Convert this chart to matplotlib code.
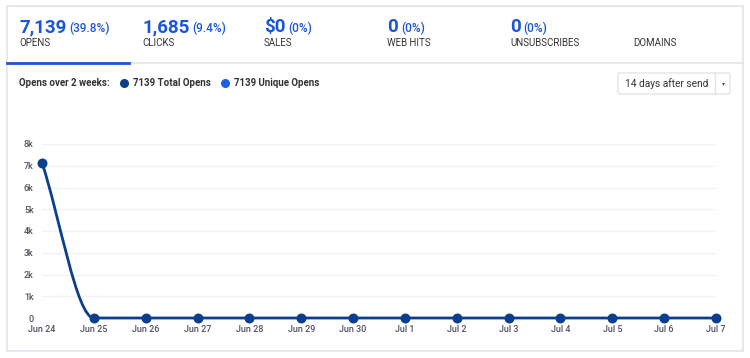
import matplotlib.pyplot as plt
import numpy as np
from matplotlib.path import Path
from matplotlib.patches import PathPatch, FancyBboxPatch, Rectangle

plt.rcParams['font.family'] = ['Roboto', 'DejaVu Sans']

# data
dates = ['Jun 24', 'Jun 25', 'Jun 26', 'Jun 27', 'Jun 28', 'Jun 29', 'Jun 30',
         'Jul 1', 'Jul 2', 'Jul 3', 'Jul 4', 'Jul 5', 'Jul 6', 'Jul 7']
opens = [7139, 0, 0, 0, 0, 0, 0, 0, 0, 0, 0, 0, 0, 0]
yticks = [0, 1000, 2000, 3000, 4000, 5000, 6000, 7000, 8000]
ytick_labels = ['0', '1k', '2k', '3k', '4k', '5k', '6k', '7k', '8k']

stat_values = ['7,139', '1,685', '$0', '0', '0', '']
stat_pcts = ['(39.8%)', '(9.4%)', '(0%)', '(0%)', '(0%)', '']
stat_names = ['OPENS', 'CLICKS', 'SALES', 'WEB HITS', 'UNSUBSCRIBES', 'DOMAINS']
total_opens = 7139
unique_opens = 7139

BLUE = '#1a56d8'
NAVY = '#0b3f8c'
BRIGHT = '#1d5fe6'
TXT = '#333333'
GREY = '#4d5260'
BORDER = '#e3e4ea'

W, H = 750, 358
fig = plt.figure(figsize=(W / 100, H / 100), dpi=100)

# overlay in pixel coordinates for the card / tabs
ui = fig.add_axes([0, 0, 1, 1])
ui.set_xlim(0, W)
ui.set_ylim(H, 0)
ui.axis('off')

ui.add_patch(Rectangle((7, 6), 736, 345, fill=False, ec=BORDER, lw=1.2))
ui.plot([7, 743], [63, 63], color=BORDER, lw=1.2)
ui.plot([7, 129], [62.5, 62.5], color=BLUE, lw=2)

tab_x = [19, 142, 264, 387, 510, 633]
for x, v, p, n in zip(tab_x, stat_values, stat_pcts, stat_names):
    if v:
        t = ui.text(x, 32, v, color=BLUE, fontsize=13.5, fontweight='bold', va='baseline')
        fig.canvas.draw()
        bb = t.get_window_extent()
        ui.text(bb.x1 + 3, 32, p, color=BLUE, fontsize=8.5, fontweight='medium', va='baseline')
    ui.text(x, 46.5, n, color=TXT, fontsize=7, va='baseline')

ui.text(19, 83, 'Opens over 2 weeks:', color=TXT, fontsize=7, fontweight='bold', va='center')
ui.scatter([124], [83], s=30, color=NAVY, zorder=3)
ui.text(133, 83, f'{total_opens} Total Opens', color=TXT, fontsize=7, fontweight='bold', va='center')
ui.scatter([225], [83], s=30, color=BRIGHT, zorder=3)
ui.text(234, 83, f'{unique_opens} Unique Opens', color=TXT, fontsize=7, fontweight='bold', va='center')

# dropdown
ui.add_patch(FancyBboxPatch((618, 73), 112, 21, boxstyle='round,pad=0,rounding_size=2',
                            fill=False, ec=BORDER, lw=1))
ui.plot([715, 715], [73, 94], color=BORDER, lw=1)
ui.text(625, 83.5, '14 days after send', color=TXT, fontsize=7.3, va='center')
ui.scatter([722.5], [84], marker='v', s=4, color=TXT, linewidths=0)

# chart
ax = fig.add_axes([42 / W, 1 - 318 / H, (716 - 42) / W, (318 - 144) / H])
x = np.arange(len(opens))
y = np.array(opens, dtype=float)

# monotone cubic curve through the points (drawn as bezier segments)
d = np.diff(y)
m = np.zeros_like(y)
m[0], m[-1] = d[0], d[-1]
for i in range(1, len(y) - 1):
    if d[i - 1] * d[i] > 0:
        m[i] = 2 / (1 / d[i - 1] + 1 / d[i])
verts, codes = [(x[0], y[0])], [Path.MOVETO]
for i in range(len(y) - 1):
    verts += [(x[i] + 1 / 3, y[i] + m[i] / 3), (x[i + 1] - 1 / 3, y[i + 1] - m[i + 1] / 3),
              (x[i + 1], y[i + 1])]
    codes += [Path.CURVE4] * 3
ax.add_patch(PathPatch(Path(verts, codes), fill=False, ec=NAVY, lw=2, clip_on=False, zorder=3))
ax.scatter(x, y, s=38, color=NAVY, zorder=4, clip_on=False)

ax.set_xlim(0, len(opens) - 1)
ax.set_ylim(0, 8000)
ax.set_yticks(yticks, ytick_labels)
ax.set_xticks(x, dates)
ax.grid(axis='y', color='#f2f2f5', lw=1)
ax.set_axisbelow(True)
for s in ax.spines.values():
    s.set_visible(False)
ax.tick_params(length=0, labelsize=6.5, labelcolor=GREY, pad=6)
ax.tick_params(axis='x', pad=5)
for lbl in ax.get_xticklabels() + ax.get_yticklabels():
    lbl.set_fontweight('medium')
ax.patch.set_alpha(0)

fig.savefig('out.png', dpi=100)
